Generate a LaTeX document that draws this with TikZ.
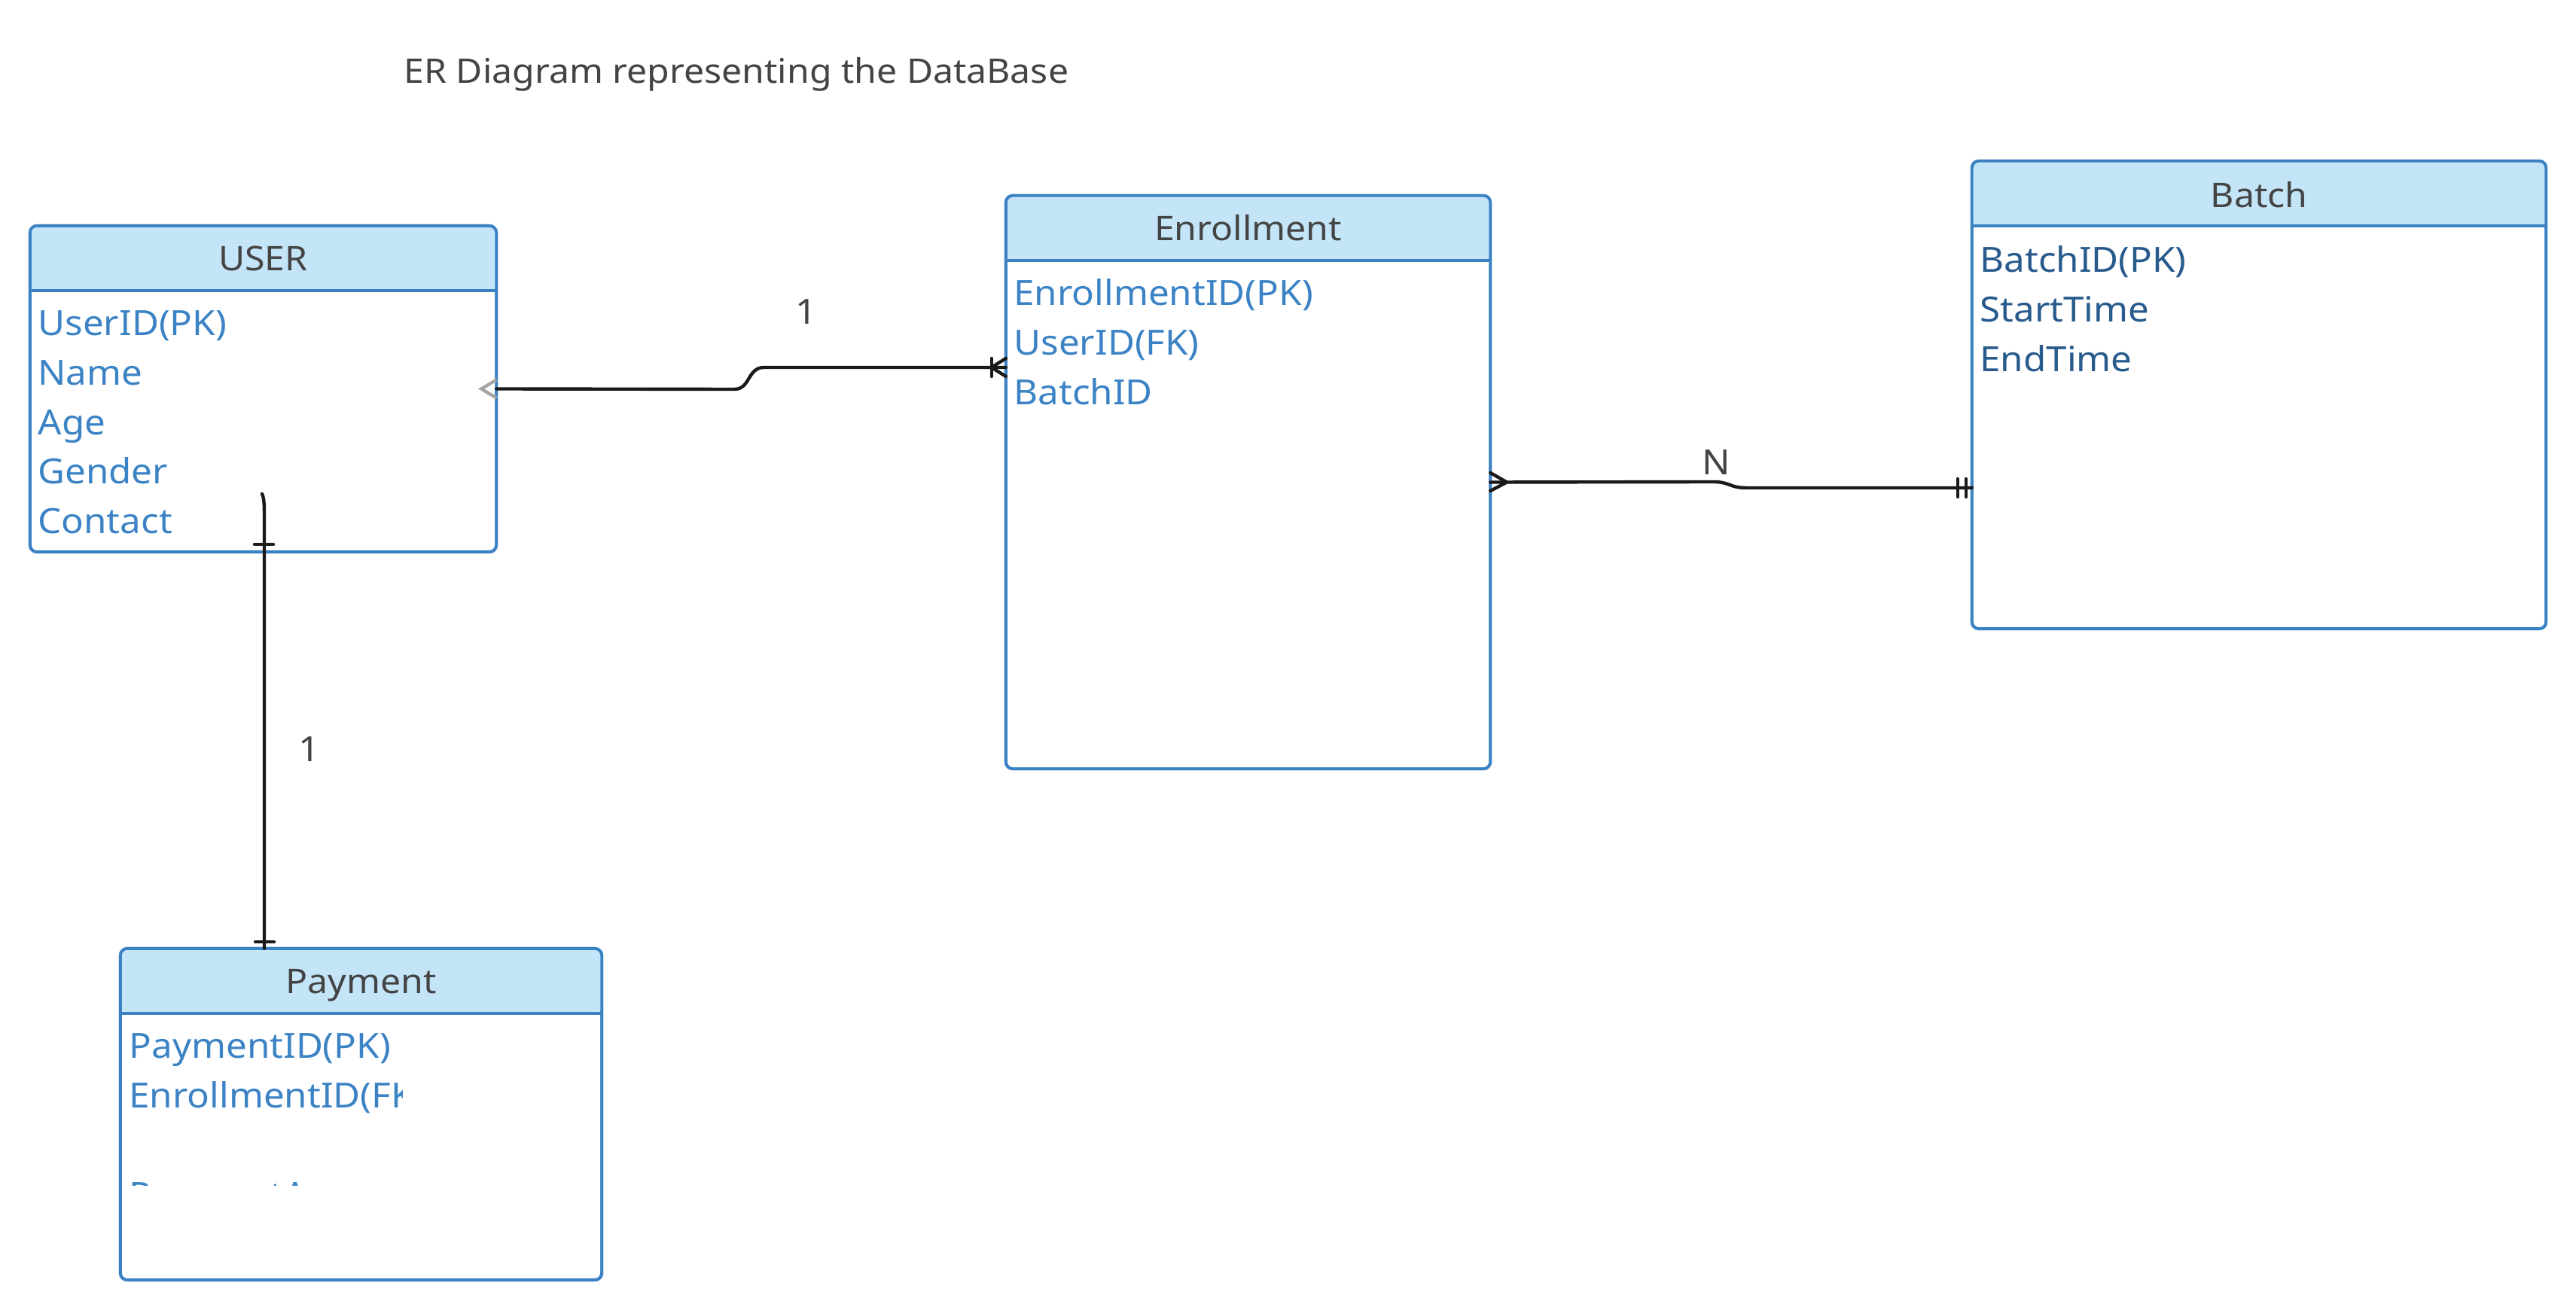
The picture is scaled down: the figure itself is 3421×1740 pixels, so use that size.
\documentclass[tikz,border=0pt]{standalone}
\usepackage{fontspec}
\setmainfont[FakeStretch=1.07]{Noto Sans}
\usetikzlibrary{calc}
\definecolor{bordc}{HTML}{3B82C4}
\definecolor{hdrc}{HTML}{C4E5F8}
\definecolor{attrc}{HTML}{3C83C5}
\definecolor{battrc}{HTML}{285B8C}
\definecolor{greyt}{HTML}{444444}
\definecolor{linec}{HTML}{1A1A1A}
\definecolor{tipg}{HTML}{A5A5A5}
\tikzset{
  entity/.style={draw=bordc, line width=1.1pt, rounded corners=2.6pt, inner sep=0pt, outer sep=0pt},
  hdrfill/.style={fill=hdrc, rounded corners=2.6pt},
  sepline/.style={draw=bordc, line width=1.1pt},
  htitle/.style={anchor=base, inner sep=0pt, text=greyt, font=\fontsize{12.8}{15}\selectfont},
  attr/.style={anchor=base west, inner sep=0pt, text=attrc, font=\fontsize{13.1}{15}\selectfont},
  battr/.style={attr, text=battrc},
  conn/.style={draw=linec, line width=1.25pt, line cap=round},
  lbl/.style={anchor=base, inner sep=0pt, text=greyt, font=\fontsize{13.1}{15}\selectfont}
}
\begin{document}
\begin{tikzpicture}[x=0.01cm, y=-0.01cm]
\useasboundingbox (0,0) rectangle (3421,1740);
\fill[white] (0,0) rectangle (3421,1740);

% title
\node[anchor=base, inner sep=0pt, text=greyt, font=\fontsize{12.8}{15}\selectfont] (title) at (978,111) {ER Diagram representing the DataBase};

% entity boxes
\node[entity, minimum width=6.19cm, minimum height=4.33cm] (U) at (349.5,516.5) {};
\node[entity, minimum width=6.43cm, minimum height=7.61cm] (E) at (1657.5,640.5) {};
\node[entity, minimum width=7.62cm, minimum height=6.21cm] (B) at (3000,524.5) {};
\node[entity, minimum width=6.39cm, minimum height=4.40cm] (P) at (479.5,1480) {};

% headers
\foreach \n in {U,E,B,P}{
  \fill[hdrfill] ([yshift=-0.86cm]\n.north west) |- (\n.north) -| ([yshift=-0.86cm]\n.north east) -- cycle;
  \draw[entity, fill=none] (\n.north west) rectangle (\n.south east);
  \draw[sepline] ([yshift=-0.86cm]\n.north west) -- ([yshift=-0.86cm]\n.north east);
}

\node[htitle] (Ut) at ([yshift=-0.60cm]U.north) {USER};
\node[htitle] (Et) at ([yshift=-0.60cm]E.north) {Enrollment};
\node[htitle] (Bt) at ([yshift=-0.62cm]B.north) {Batch};
\node[htitle] (Pt) at ([yshift=-0.60cm]P.north) {Payment};

% USER attributes
\node[attr] (u1) at ([xshift=0.10cm,yshift=-1.46cm]U.north west) {UserID(PK)};
\node[attr] (u2) at ([yshift=-0.656cm]u1.base west) {Name};
\node[attr] (u3) at ([yshift=-0.656cm]u2.base west) {Age};
\node[attr] (u4) at ([yshift=-0.656cm]u3.base west) {Gender};
\node[attr] (u5) at ([yshift=-0.656cm]u4.base west) {Contact};

% Enrollment attributes
\node[attr] (e1) at ([xshift=0.10cm,yshift=-1.46cm]E.north west) {EnrollmentID(PK)};
\node[attr] (e2) at ([yshift=-0.656cm]e1.base west) {UserID(FK)};
\node[attr] (e3) at ([yshift=-0.656cm]e2.base west) {BatchID};

% Batch attributes
\node[battr] (b1) at ([xshift=0.10cm,yshift=-1.48cm]B.north west) {BatchID(PK)};
\node[battr] (b2) at ([yshift=-0.656cm]b1.base west) {StartTime};
\node[battr] (b3) at ([yshift=-0.656cm]b2.base west) {EndTime};

% Payment attributes
\node[attr] (p1) at ([xshift=0.11cm,yshift=-1.46cm]P.north west) {PaymentID(PK)};
\begin{scope}
  \clip (165,1350) rectangle (534,1574);
  \node[attr] (p2) at ([yshift=-0.656cm]p1.base west) {EnrollmentID(FK)};
  \node[attr] (p3) at ([yshift=-1.97cm]p1.base west) {PaymentAmount};
\end{scope}

% connector USER -- Enrollment
\draw[conn] (U.east) -- (975,517) .. controls (997,517) and (992,488) .. (1015,488) -- (E.west |- 0,488);
\draw[draw=tipg, line width=1.2pt] ([yshift=0.12cm]U.east) -- ([xshift=-0.2cm]U.east) -- ([yshift=-0.12cm]U.east);
\draw[conn] ([xshift=-0.19cm]E.west |- 0,476) -- ([xshift=-0.19cm]E.west |- 0,500);
\draw[conn] (E.west |- 0,476) -- ([xshift=-0.19cm]E.west |- 0,488) -- (E.west |- 0,500);
\node[lbl] (l1) at (1071,431) {1};

% connector Enrollment -- Batch
\draw[conn] (E.east) -- (2275,640) .. controls (2298,640) and (2296,648) .. (2320,648) -- (B.west |- 0,648);
\draw[conn] (E.east |- 0,628) -- ([xshift=0.22cm]E.east) -- (E.east |- 0,652);
\draw[conn] ([xshift=-0.19cm]B.west |- 0,636) -- ([xshift=-0.19cm]B.west |- 0,660);
\draw[conn] ([xshift=-0.08cm]B.west |- 0,636) -- ([xshift=-0.08cm]B.west |- 0,660);
\node[lbl] (l2) at (2279,631) {N};

% connector USER -- Payment
\coordinate (vtop) at (348,656);
\draw[conn] (vtop) .. controls (351,662) and (351,672) .. (351,690) -- (P.north -| 351,0);
\draw[conn] (338,723) -- (363,723);
\draw[conn] (339,1251) -- (364,1251);
\node[lbl] (l3) at (411,1011) {1};
\end{tikzpicture}
\end{document}
